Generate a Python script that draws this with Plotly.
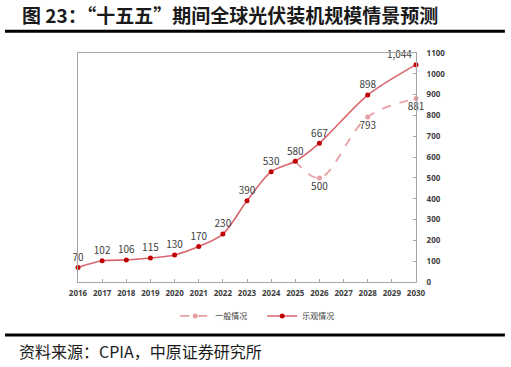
import plotly.graph_objects as go

years_opt = [2016, 2017, 2018, 2019, 2020, 2021, 2022, 2023, 2024, 2025, 2026, 2028, 2030]
vals_opt = [70, 102, 106, 115, 130, 170, 230, 390, 530, 580, 667, 898, 1044]
pos_opt = ["top center"] * 12 + ["top left"]

years_gen = [2025, 2026, 2028, 2030]
vals_gen = [580, 500, 793, 881]
text_gen = ["", "500", "793", "881"]
pos_gen = ["bottom center", "bottom center", "bottom center", "bottom center"]

x_ticks = list(range(2016, 2031))
y_ticks = list(range(0, 1101, 100))

title_text = "图 23：“十五五”期间全球光伏装机规模情景预测"
source_text = "资料来源：CPIA，中原证券研究所"

label_font = dict(family="Noto Sans CJK SC, Noto Sans, sans-serif", size=10, color="#404040")

fig = go.Figure()
fig.add_trace(go.Scatter(
    x=years_gen, y=vals_gen, name="一般情况",
    mode="lines+markers+text",
    line=dict(color="#e79ea3", width=1.8, dash="dash", shape="spline", smoothing=1.0),
    marker=dict(color="#e79ea3", size=5),
    text=text_gen, textposition=pos_gen, textfont=label_font,
    cliponaxis=False,
))
fig.add_trace(go.Scatter(
    x=years_opt, y=vals_opt, name="乐观情况",
    mode="lines+markers+text",
    line=dict(color="#d9666e", width=1.6, shape="spline", smoothing=0.8),
    marker=dict(color="#c00000", size=5),
    texttemplate="%{y:,}", textposition=pos_opt, textfont=label_font,
    cliponaxis=False,
))

fig.update_layout(
    width=511, height=367,
    margin=dict(l=78, r=95, t=53, b=85),
    paper_bgcolor="white", plot_bgcolor="white",
    showlegend=True,
    legend=dict(orientation="h", x=0.545, xanchor="center", y=-0.085, yanchor="top",
                font=dict(family="Noto Sans CJK SC", size=8, color="#404040"),
                itemwidth=30, tracegroupgap=0, entrywidth=42, entrywidthmode="pixels"),
    xaxis=dict(range=[2016, 2030], tickvals=x_ticks, ticktext=[str(t) for t in x_ticks],
               showgrid=False, zeroline=False, showline=True, linecolor="#a6a6a6", linewidth=1,
               mirror=True, ticks="inside", ticklen=3, tickcolor="#a6a6a6",
               ticklabelstandoff=3,
               tickfont=dict(family="Noto Sans, sans-serif", size=8, color="#404040", weight="bold")),
    yaxis=dict(range=[0, 1100], tickvals=y_ticks, side="right",
               showgrid=False, zeroline=False, showline=True, linecolor="#a6a6a6", linewidth=1,
               mirror=True, ticks="inside", ticklen=3, tickcolor="#a6a6a6",
               ticklabelstandoff=8,
               tickfont=dict(family="Noto Sans, sans-serif", size=8, color="#404040", weight="bold")),
)

fig.add_annotation(text=title_text, xref="paper", yref="paper", x=-0.172, y=1.17,
                   xanchor="left", yanchor="middle", showarrow=False,
                   font=dict(family="Noto Sans CJK SC", size=19, color="#1a1a1a", weight="bold"))
fig.add_annotation(text=source_text, xref="paper", yref="paper", x=-0.18, y=-0.30,
                   xanchor="left", yanchor="middle", showarrow=False,
                   font=dict(family="Noto Sans CJK SC", size=16, color="#1a1a1a"))
fig.add_shape(type="line", xref="paper", yref="paper", x0=-0.216, x1=1.263, y0=1.095, y1=1.095,
              line=dict(color="black", width=3))
fig.add_shape(type="line", xref="paper", yref="paper", x0=-0.216, x1=1.263, y0=-0.231, y1=-0.231,
              line=dict(color="black", width=3))

fig.write_html("out.html")
